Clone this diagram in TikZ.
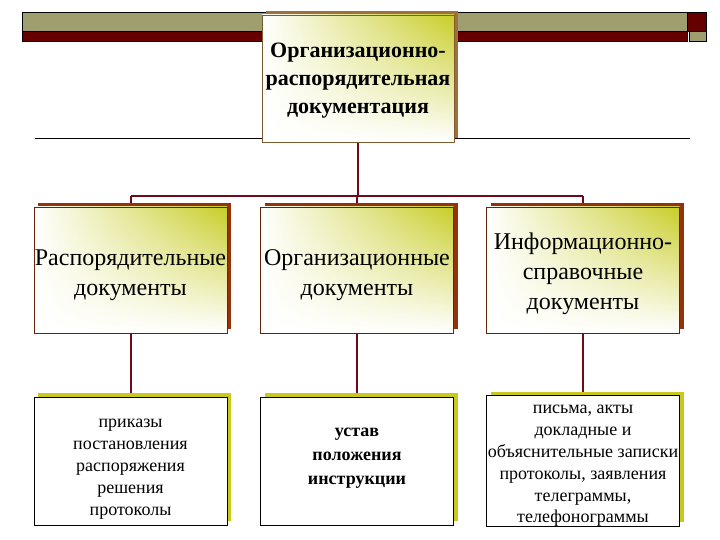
\documentclass[tikz,border=0pt]{standalone}
\usepackage{fontspec}
\setmainfont{Liberation Serif}
\usetikzlibrary{shadows,backgrounds,shadings}
\definecolor{olivebar}{RGB}{158,158,110}
\definecolor{darkred}{RGB}{102,0,0}
\definecolor{conn}{RGB}{110,10,25}
\definecolor{yel}{RGB}{200,205,40}
\definecolor{topshadow}{RGB}{160,112,60}
\definecolor{midshadow}{RGB}{150,50,10}
\definecolor{lowshadow}{RGB}{200,200,30}
\newcommand\boxlines[2]{\raisebox{#1}[\height][\depth]{\begin{tabular}{@{}c@{}}#2\end{tabular}}}
\tikzset{
  gradbox/.style={upper right=yel, upper left=white, lower left=white, lower right=white,
    inner sep=0pt},
  topbox/.style={gradbox, draw=topshadow!80!black, line width=0.6pt,
    minimum width=192pt, minimum height=127pt,
    general shadow={fill=topshadow, shadow xshift=4pt, shadow yshift=4pt},
    font=\fontsize{22}{28}\selectfont\bfseries},
  midbox/.style={gradbox, draw=midshadow!70!black, line width=0.6pt,
    minimum width=193pt, minimum height=126pt,
    general shadow={fill=midshadow, shadow xshift=4pt, shadow yshift=4pt},
    font=\fontsize{24}{30}\selectfont},
  lowbox/.style={fill=white, draw=black, line width=0.8pt, inner sep=0pt,
    minimum width=193pt, minimum height=128pt,
    general shadow={fill=lowshadow, shadow xshift=4pt, shadow yshift=4pt},
    font=\fontsize{18}{22}\selectfont},
  connector/.style={draw=conn, line width=2pt},
  bar/.style={draw=black, line width=0.8pt}
}
\begin{document}
\begin{tikzpicture}[x=1pt,y=-1pt]
\useasboundingbox (0,0) rectangle (720,540);
% top bars
\path[bar, fill=olivebar] (22,12) rectangle (687,31);
\path[bar, fill=darkred] (22,31) rectangle (687,41);
\path[bar, fill=darkred] (687,12) rectangle (706,31);
\path[bar, fill=olivebar] (689,31) rectangle (706,41);
% nodes
\node[topbox] (top) at (358,78.5) {\boxlines{-1pt}{Организационно-\\распорядительная\\документация}};
\node[midbox] (m1) at (130.5,270) {\boxlines{-4pt}{Распорядительные\\документы}};
\node[midbox] (m2) at (357,270) {\boxlines{-4pt}{Организационные\\документы}};
\node[midbox] (m3) at (583,270) {\boxlines{-3pt}{Информационно-\\справочные\\документы}};
\node[lowbox] (l1) at (130.5,461) {\boxlines{-6pt}{приказы\\постановления\\распоряжения\\решения\\протоколы}};
\node[lowbox, font=\fontsize{18}{24}\selectfont\bfseries] (l2) at (357,461) {\boxlines{5pt}{устав\\положения\\инструкции}};
\node[lowbox, font=\fontsize{18}{21.8}\selectfont] (l3) at (583,461) {\boxlines{-3pt}{письма, акты\\докладные и\\объяснительные записки\\протоколы, заявления\\телеграммы,\\телефонограммы}};
\coordinate (bus) at (357,196);
\coordinate (ruleL) at (35,138);
\coordinate (ruleR) at (690,138);
\begin{scope}[on background layer]
\draw[black, line width=0.8pt] (ruleL) -- (ruleR);
\draw[connector] (top.south) -- (top.south |- bus);
\draw[connector] (m1.north |- bus) -- (m3.north |- bus);
\draw[connector] (m1.north |- bus) -- (m1.north);
\draw[connector] (m2.north |- bus) -- (m2.north);
\draw[connector] (m3.north |- bus) -- (m3.north);
\draw[connector] (m1.south) -- (l1.north);
\draw[connector] (m2.south) -- (l2.north);
\draw[connector] (m3.south) -- (l3.north);
\end{scope}
\end{tikzpicture}
\end{document}
